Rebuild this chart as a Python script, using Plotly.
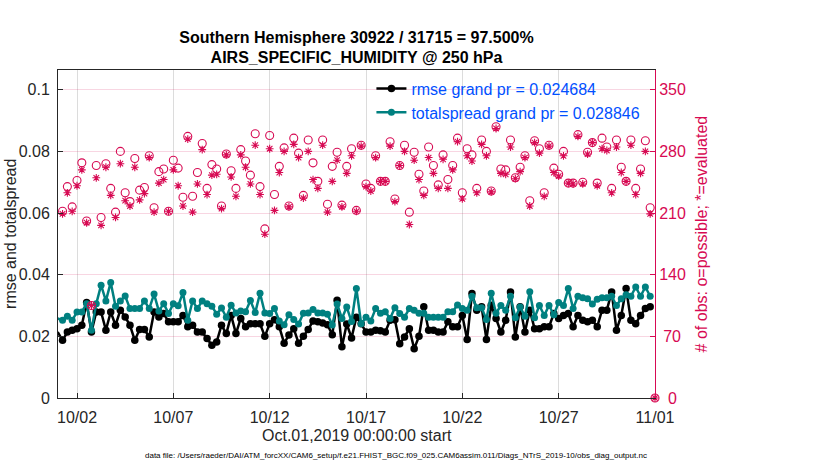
import pandas as pd
import plotly.graph_objects as go

# 6-hourly bins, Oct 1 00Z .. Nov 1 00Z
times = pd.date_range('2019-10-01 00:00', periods=125, freq='6h')

rmse = [
    0.0214, 0.0187, 0.0214, 0.0220, 0.0225, 0.0236, 0.0310, 0.0214, 0.0279, 0.0279,
    0.0220, 0.0279, 0.0236, 0.0285, 0.0263, 0.0236, 0.0187, 0.0222, 0.0222, 0.0198,
    0.0279, 0.0263, 0.0274, 0.0247, 0.0247, 0.0247, 0.0268, 0.0231, 0.0236, 0.0214,
    0.0214, 0.0193, 0.0171, 0.0182, 0.0236, 0.0209, 0.0268, 0.0209, 0.0258, 0.0231,
    0.0241, 0.0241, 0.0241, 0.0200, 0.0241, 0.0254, 0.0231, 0.0178, 0.0204, 0.0225,
    0.0178, 0.0200, 0.0222, 0.0250, 0.0247, 0.0243, 0.0238, 0.0205, 0.0317, 0.0166,
    0.0240, 0.0195, 0.0262, 0.0241, 0.0214, 0.0214, 0.0220, 0.0218, 0.0214, 0.0252,
    0.0254, 0.0176, 0.0198, 0.0225, 0.0160, 0.0200, 0.0296, 0.0220, 0.0220, 0.0214,
    0.0214, 0.0247, 0.0231, 0.0231, 0.0268, 0.0190, 0.0339, 0.0285, 0.0296, 0.0190,
    0.0301, 0.0258, 0.0214, 0.0252, 0.0344, 0.0198, 0.0296, 0.0214, 0.0285, 0.0225,
    0.0225, 0.0231, 0.0231, 0.0274, 0.0258, 0.0268, 0.0274, 0.0231, 0.0268, 0.0252,
    0.0247, 0.0252, 0.0231, 0.0285, 0.0285, 0.0344, 0.0220, 0.0268, 0.0355, 0.0252,
    0.0241, 0.0268, 0.0290, 0.0296, None,
]

spread = [
    0.0258, 0.0252, 0.0265, 0.0252, 0.0279, 0.0279, 0.0306, 0.0220, 0.0306, 0.0366,
    0.0315, 0.0375, 0.0298, 0.0315, 0.0331, 0.0290, 0.0290, 0.0290, 0.0315, 0.0290,
    0.0337, 0.0282, 0.0306, 0.0274, 0.0306, 0.0299, 0.0342, 0.0252, 0.0315, 0.0290,
    0.0315, 0.0306, 0.0298, 0.0272, 0.0292, 0.0262, 0.0301, 0.0276, 0.0282, 0.0280,
    0.0316, 0.0277, 0.0340, 0.0276, 0.0274, 0.0290, 0.0250, 0.0238, 0.0270, 0.0255,
    0.0240, 0.0275, 0.0276, 0.0287, 0.0276, 0.0276, 0.0272, 0.0237, 0.0305, 0.0258,
    0.0295, 0.0248, 0.0355, 0.0241, 0.0262, 0.0250, 0.0290, 0.0275, 0.0280, 0.0258,
    0.0293, 0.0274, 0.0262, 0.0290, 0.0285, 0.0275, 0.0275, 0.0262, 0.0262, 0.0262,
    0.0262, 0.0280, 0.0280, 0.0302, 0.0290, 0.0285, 0.0330, 0.0293, 0.0293, 0.0255,
    0.0340, 0.0275, 0.0300, 0.0285, 0.0330, 0.0260, 0.0295, 0.0265, 0.0345, 0.0260,
    0.0300, 0.0268, 0.0300, 0.0270, 0.0310, 0.0300, 0.0355, 0.0290, 0.0330, 0.0325,
    0.0322, 0.0305, 0.0320, 0.0325, 0.0325, 0.0330, 0.0300, 0.0322, 0.0335, 0.0330,
    0.0360, 0.0330, 0.0360, 0.0330, None,
]

n_possible = [
    249, 212, 240, 217, 247, 267, 201, 105, 264, 205,
    266, 238, 211, 280, 233, 223, 272, 236, 239, 275,
    216, 257, 260, 212, 270, 261, 228, 297, 229, 256,
    289, 238, 265, 260, 218, 277, 258, 238, 282, 269,
    253, 300, 240, 192, 298, 231, 263, 284, 218, 295,
    278, 230, 293, 267, 246, 293, 220, 263, 279, 219,
    263, 283, 213, 287, 243, 238, 275, 246, 246, 291,
    226, 264, 287, 211, 279, 254, 235, 285, 264, 242,
    276, 248, 264, 295, 233, 283, 276, 238, 293, 280,
    235, 308, 260, 259, 293, 250, 262, 275, 224, 292,
    283, 233, 287, 261, 254, 280, 244, 244, 299, 245,
    279, 290, 244, 295, 285, 238, 293, 262, 246, 293,
    238, 260, 292, 216, 0,
]

n_used = [
    241, 209, 233, 212, 241, 259, 199, 105, 250, 196,
    262, 230, 205, 266, 224, 218, 262, 225, 232, 273,
    211, 244, 248, 212, 259, 241, 218, 294, 211, 243,
    282, 231, 253, 254, 215, 276, 251, 229, 276, 262,
    243, 287, 231, 186, 283, 213, 256, 280, 217, 288,
    273, 227, 280, 248, 238, 287, 211, 246, 270, 217,
    255, 275, 212, 286, 240, 235, 273, 246, 246, 286,
    223, 264, 280, 197, 270, 248, 230, 273, 255, 238,
    271, 238, 259, 291, 226, 275, 269, 233, 288, 275,
    234, 306, 255, 254, 285, 249, 257, 273, 218, 290,
    278, 229, 286, 256, 252, 275, 244, 243, 297, 243,
    277, 290, 241, 283, 281, 233, 285, 256, 246, 287,
    231, 255, 280, 209, 0,
]

xtick_vals = ['2019-10-02', '2019-10-07', '2019-10-12', '2019-10-17',
              '2019-10-22', '2019-10-27', '2019-11-01']
xtick_text = ['10/02', '10/07', '10/12', '10/17', '10/22', '10/27', '11/01']
ytick_vals = [0, 0.02, 0.04, 0.06, 0.08, 0.1]
ytick_text = ['0', '0.02', '0.04', '0.06', '0.08', '0.1']
y2tick_vals = [0, 70, 140, 210, 280, 350]
# padded so the right-hand labels sit centred like the original
y2tick_text = ['\u20070', '\u200570', '140', '210', '280', '350']

CRIMSON = '#d70a53'
TEAL = '#008080'
FONT = 'Liberation Sans, Arial, sans-serif'

fig = go.Figure()

fig.add_trace(go.Scatter(
    x=times, y=rmse, name='rmse grand pr = 0.024684',
    mode='lines+markers', cliponaxis=False,
    line=dict(color='black', width=2.5),
    marker=dict(symbol='circle', size=7.5, color='black'),
))
fig.add_trace(go.Scatter(
    x=times, y=spread, name='totalspread grand pr = 0.028846',
    mode='lines+markers', cliponaxis=False,
    line=dict(color=TEAL, width=2.5),
    marker=dict(symbol='circle', size=7, color=TEAL),
))
fig.add_trace(go.Scatter(
    x=times, y=n_possible, yaxis='y2', mode='markers', showlegend=False,
    cliponaxis=False,
    marker=dict(symbol='circle-open', size=8, color=CRIMSON, line=dict(width=1.1)),
))
fig.add_trace(go.Scatter(
    x=times, y=n_used, yaxis='y2', mode='markers', showlegend=False,
    cliponaxis=False,
    marker=dict(symbol='asterisk-open', size=6.5, color=CRIMSON, line=dict(width=1.1, color=CRIMSON)),
))

fig.update_layout(
    width=830, height=470,
    margin=dict(l=58, r=175, t=70, b=72),
    paper_bgcolor='white', plot_bgcolor='white',
    font=dict(family=FONT, size=16, color='#262626'),
    title=dict(
        text='<b>Southern Hemisphere 30922 / 31715 = 97.500%</b><br><b>AIRS_SPECIFIC_HUMIDITY @ 250 hPa</b>',
        x=0.5, xref='paper', xanchor='center',
        y=1 - 42.5 / 470, yref='container', yanchor='middle',
        font=dict(family=FONT, size=16, color='black'),
    ),
    xaxis=dict(
        range=['2019-10-01 00:20', '2019-11-01 00:00'],
        tickvals=xtick_vals, ticktext=xtick_text,
        ticks='inside', ticklen=5, tickcolor='#262626',
        ticklabelstandoff=5,
        showline=True, linecolor='#262626', linewidth=1, mirror=True,
        showgrid=True, gridcolor='#dcdcdc', gridwidth=1,
        zeroline=False,
    ),
    yaxis=dict(
        range=[0, 0.1064],
        tickvals=ytick_vals, ticktext=ytick_text,
        ticks='inside', ticklen=5, tickcolor='#262626',
        ticklabelstandoff=4,
        showline=True, linecolor='#262626', linewidth=1,
        showgrid=False, zeroline=False,
    ),
    yaxis2=dict(
        range=[0, 0.1064 * 3500], overlaying='y', side='right',
        tickvals=y2tick_vals, ticktext=y2tick_text,
        ticks='inside', ticklen=5, tickcolor=CRIMSON,
        tickfont=dict(color=CRIMSON, size=16),
        showline=True, linecolor=CRIMSON, linewidth=1,
        showgrid=True, gridcolor='rgba(215,10,83,0.17)', gridwidth=1,
        zeroline=False,
    ),
    legend=dict(
        x=0.525, y=0.995, xanchor='left', yanchor='top',
        bgcolor='rgba(0,0,0,0)', borderwidth=0,
        font=dict(family=FONT, size=16, color='#0050ff'),
        tracegroupgap=0,
    ),
    showlegend=True,
)

fig.add_annotation(
    text='rmse and totalspread', textangle=-90, showarrow=False,
    xref='paper', yref='paper', x=-0.0805, y=0.5, xanchor='center', yanchor='middle',
    font=dict(family=FONT, size=16, color='#262626'),
)
fig.add_annotation(
    text='# of obs: o=possible; *=evaluated', textangle=-90, showarrow=False,
    xref='paper', yref='paper', x=1.0777, y=0.5, xanchor='center', yanchor='middle',
    font=dict(family=FONT, size=16, color=CRIMSON),
)
fig.add_annotation(
    text='Oct.01,2019 00:00:00 start', showarrow=False,
    xref='paper', yref='paper', x=0.5, y=-0.114, xanchor='center', yanchor='middle',
    font=dict(family=FONT, size=16, color='#262626'),
)
fig.add_annotation(
    text='data file: /Users/raeder/DAI/ATM_forcXX/CAM6_setup/f.e21.FHIST_BGC.f09_025.CAM6assim.011/Diags_NTrS_2019-10/obs_diag_output.nc',
    showarrow=False,
    xref='paper', yref='paper', x=0.567, y=-0.176, xanchor='center', yanchor='middle',
    font=dict(family=FONT, size=8, color='black'),
)

# drop the browser's default 8px body margin so the figure sits at the page corner
fig.write_html('out.html', config={'displayModeBar': False},
               post_script="document.body.style.margin='0px';")
